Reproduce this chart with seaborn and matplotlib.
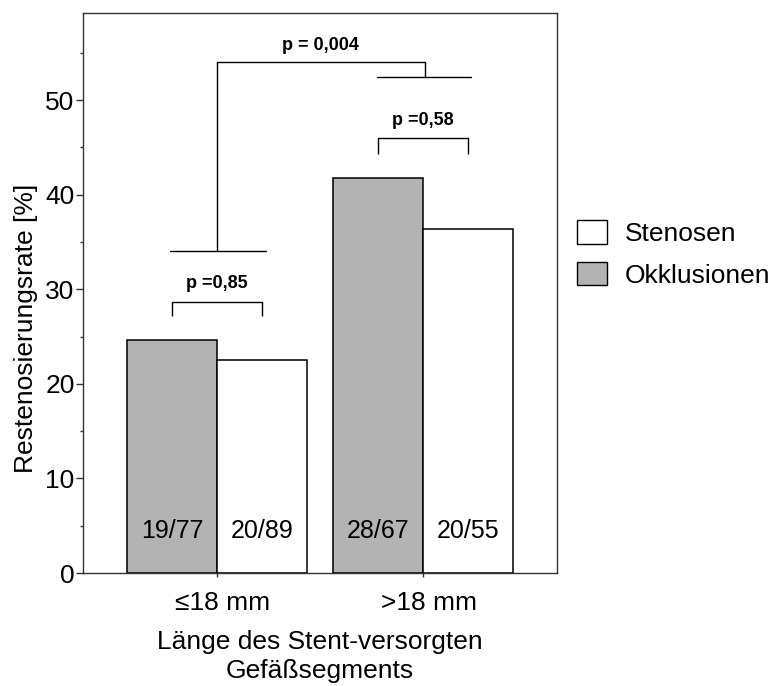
import matplotlib
matplotlib.use("Agg")
import matplotlib.pyplot as plt
from matplotlib.patches import Patch
from matplotlib.ticker import MultipleLocator
from matplotlib.transforms import ScaledTranslation
import seaborn as sns
import pandas as pd

# Restenosis counts per stented segment length and lesion type
categories = ["\u226418 mm", ">18 mm"]
groups = ["Okklusionen", "Stenosen"]
restenoses = {"Okklusionen": [19, 28], "Stenosen": [20, 20]}
totals = {"Okklusionen": [77, 67], "Stenosen": [89, 55]}

rows = []
for g in groups:
    for c, n, tot in zip(categories, restenoses[g], totals[g]):
        rows.append({"Länge": c, "Gruppe": g, "Rate": 100.0 * n / tot,
                     "Label": f"{n}/{tot}"})
df = pd.DataFrame(rows)

sns.set_theme(style="white")
plt.rcParams["font.family"] = ["Liberation Sans", "DejaVu Sans"]
plt.rcParams["text.color"] = "black"
plt.rcParams["axes.labelcolor"] = "black"
plt.rcParams["xtick.color"] = "black"
plt.rcParams["ytick.color"] = "black"

fig = plt.figure(figsize=(7.75, 6.86), dpi=100)
ax = fig.add_axes([0.1071, 0.1647, 0.6116, 0.8163])

palette = {"Okklusionen": "#b3b3b3", "Stenosen": "#ffffff"}
bar_width = 0.874
sns.barplot(data=df, x="Länge", y="Rate", hue="Gruppe", order=categories,
            hue_order=groups, palette=palette, saturation=1, width=bar_width,
            edgecolor="black", linewidth=1.1, errorbar=None, legend=False, ax=ax)

ax.set_xlim(-0.65, 1.65)
ax.set_ylim(0, 59.2)

# count labels inside bars
offset = bar_width / 4
for gi, g in enumerate(groups):
    sub = df[df["Gruppe"] == g]
    for ci, lab in enumerate(sub["Label"]):
        x = ci + (-offset if gi == 0 else offset)
        ax.text(x, 4.4, lab, ha="center", va="center", fontsize=18, color="black")

# significance brackets
lw = 1.0
def bracket(x0, x1, y, h, text, ty):
    ax.plot([x0, x0, x1, x1], [y - h, y, y, y - h], color="black", lw=lw,
            solid_capstyle="butt", clip_on=False)
    ax.text((x0 + x1) / 2, ty, text, ha="center", va="center",
            fontsize=13, fontweight="bold", color="black")

bracket(-offset, offset, 28.65, 1.5, "p =0,85", 30.6)
bracket(1 - offset, 1 + offset, 45.95, 1.6, "p =0,58", 47.8)

# combined comparison between length groups
ax.plot([-0.228, 0.238], [34.05, 34.05], color="black", lw=lw)
ax.plot([0.777, 1.233], [52.43, 52.43], color="black", lw=lw)
ax.plot([0.0, 0.0, 1.01, 1.01], [34.05, 54.0, 54.0, 52.43], color="black", lw=lw)
ax.text(0.5, 55.8, "p = 0,004", ha="center", va="center",
        fontsize=13, fontweight="bold", color="black")

# axes styling
for s in ax.spines.values():
    s.set_visible(True)
    s.set_color("#333333")
    s.set_linewidth(1.0)

ax.yaxis.set_major_locator(MultipleLocator(10))
ax.yaxis.set_minor_locator(MultipleLocator(5))
ax.tick_params(axis="y", which="major", direction="out", length=5, width=1,
               color="#333333", labelsize=19, pad=1, left=True)
ax.tick_params(axis="y", which="minor", direction="out", length=2.5, width=1,
               color="#333333", left=True)
ax.tick_params(axis="x", which="major", direction="out", length=3, width=1,
               color="#333333", labelsize=19, pad=10, bottom=True)
ax.set_xticks([0, 1])
ax.set_xticklabels(categories)
shift = ScaledTranslation(6 / 100, 0, fig.dpi_scale_trans)
for lab in ax.get_xticklabels():
    lab.set_transform(lab.get_transform() + shift)

ax.set_xlabel("Länge des Stent-versorgten\nGefäßsegments", fontsize=19,
              linespacing=1.3, labelpad=10.5)
ax.set_ylabel("Restenosierungsrate [%]", fontsize=19, va="center")
ax.yaxis.set_label_coords(-0.12, 0.436)

handles = [Patch(facecolor="#ffffff", edgecolor="black", linewidth=1.0),
           Patch(facecolor="#b3b3b3", edgecolor="black", linewidth=1.0)]
ax.legend(handles, ["Stenosen", "Okklusionen"], loc="center left",
          bbox_to_anchor=(1.02, 0.57), frameon=False, fontsize=19,
          handlelength=1.15, handleheight=1.0, handletextpad=0.65,
          labelspacing=0.6, borderaxespad=0)

fig.savefig("out.png", dpi=100)
